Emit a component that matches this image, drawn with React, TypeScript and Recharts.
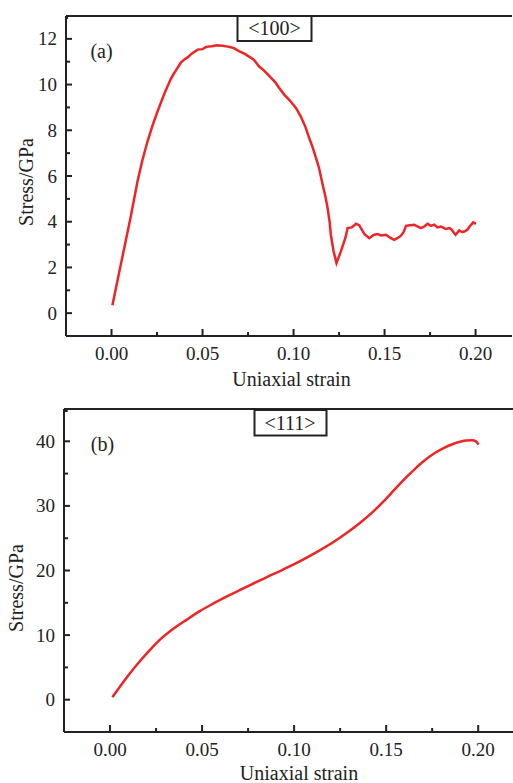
import React from 'react';
import { LineChart, Line, XAxis, YAxis } from 'recharts';

// <100> loading curve (strain, stress in GPa)
const strainA = [
  0.0005, 0.004, 0.007, 0.0105, 0.0143, 0.017, 0.0198, 0.0225, 0.0253, 0.029,
  0.0326, 0.034, 0.036, 0.038, 0.04, 0.042, 0.044, 0.0473, 0.05, 0.052,
  0.055, 0.058, 0.061, 0.064, 0.067, 0.07, 0.073, 0.076, 0.078, 0.081,
  0.084, 0.087, 0.09, 0.092, 0.095, 0.098, 0.1013, 0.104, 0.1065, 0.1086,
  0.1105, 0.1123, 0.114, 0.116, 0.1175, 0.1187, 0.1198, 0.1205, 0.122, 0.1236,
  0.126, 0.1285, 0.1297, 0.132, 0.1343, 0.136, 0.137, 0.139, 0.1416, 0.144,
  0.1462, 0.148, 0.1508, 0.153, 0.1553, 0.157, 0.159, 0.1605, 0.1618, 0.164,
  0.1663, 0.168, 0.17, 0.172, 0.1736, 0.1755, 0.1773, 0.179, 0.181, 0.1837,
  0.1855, 0.1865, 0.189, 0.191, 0.1925, 0.1938, 0.1955, 0.1965, 0.1987, 0.2002,
];
const stressA = [
  0.35, 1.7, 2.85, 4.2, 5.77, 6.7, 7.52, 8.2, 8.83, 9.6,
  10.25, 10.45, 10.7, 10.95, 11.1, 11.2, 11.35, 11.53, 11.55, 11.65,
  11.68, 11.72, 11.7, 11.66, 11.6, 11.46, 11.35, 11.2, 11.1, 10.8,
  10.6, 10.35, 10.1, 9.86, 9.55, 9.3, 8.98, 8.6, 8.15, 7.66,
  7.25, 6.79, 6.35, 5.62, 5.1, 4.6, 4.0, 3.43, 2.7, 2.19,
  2.7, 3.3, 3.72, 3.75, 3.91, 3.85, 3.72, 3.45, 3.28, 3.42,
  3.46, 3.4, 3.43, 3.3, 3.21, 3.28, 3.39, 3.55, 3.82, 3.85,
  3.87, 3.8, 3.72, 3.8, 3.91, 3.82, 3.87, 3.75, 3.79, 3.68,
  3.72, 3.68, 3.43, 3.62, 3.55, 3.57, 3.65, 3.77, 3.97, 3.91,
];

// <111> loading curve
const strainB = [
  0.0013, 0.01, 0.0163, 0.022, 0.027, 0.034, 0.0417, 0.049, 0.0562, 0.0635,
  0.0707, 0.0761, 0.085, 0.094, 0.1033, 0.112, 0.1214, 0.1285, 0.1359, 0.1425,
  0.1486, 0.154, 0.1594, 0.165, 0.1703, 0.176, 0.1812, 0.186, 0.1902, 0.1935,
  0.1966, 0.199, 0.2002,
];
const stressB = [
  0.4, 3.8, 6.0, 7.8, 9.25, 10.9, 12.4, 13.75, 14.9, 16.0,
  17.0, 17.75, 18.95, 20.15, 21.45, 22.8, 24.4, 25.8, 27.4, 29.0,
  30.7, 32.35, 34.0, 35.55, 36.9, 38.1, 38.95, 39.55, 39.93, 40.12,
  40.15, 39.95, 39.5,
];

const xMajor = [0, 0.05, 0.1, 0.15, 0.2];
const xMinor = [0.025, 0.075, 0.125, 0.175];
const yMajorA = [0, 2, 4, 6, 8, 10, 12];
const yMinorA = [1, 3, 5, 7, 9, 11];
const yMajorB = [0, 10, 20, 30, 40];
const yMinorB = [5, 15, 25, 35];

const FONT = '"Liberation Serif", "Times New Roman", serif';
const INK = '#222';
const RED = '#ee2426';

const toRows = (xs: number[], ys: number[]) => xs.map((x, i) => ({ strain: x, stress: ys[i] }));
const merge = (a: number[], b: number[]) => [...a, ...b].sort((p, q) => p - q);

const BottomTick = (props: any) => {
  const { x, y, payload } = props;
  const major = xMajor.includes(payload.value);
  return (
    <g>
      <line x1={x} x2={x} y1={y} y2={y - (major ? 7 : 4)} stroke={INK} strokeWidth={2} />
      {major && (
        <text x={x} y={y + 24} textAnchor="middle" fontSize={19} fontFamily={FONT} fill={INK}>
          {payload.value.toFixed(2)}
        </text>
      )}
    </g>
  );
};

const TopTick = (props: any) => {
  const { x, y } = props;
  return <line x1={x} x2={x} y1={y} y2={y + 3} stroke={INK} strokeWidth={1.5} />;
};

const makeLeftTick = (majors: number[]) => (props: any) => {
  const { x, y, payload } = props;
  const major = majors.includes(payload.value);
  return (
    <g>
      <line x1={x} x2={x + (major ? 6 : 4)} y1={y} y2={y} stroke={INK} strokeWidth={2} />
      {major && (
        <text x={x - 9} y={y + 6.5} textAnchor="end" fontSize={19} fontFamily={FONT} fill={INK}>
          {payload.value}
        </text>
      )}
    </g>
  );
};

interface PanelProps {
  data: { strain: number; stress: number }[];
  width: number;
  height: number;
  yWidth: number;
  rightPad: number;
  yDomain: [number, number];
  yMajor: number[];
  yMinor: number[];
  curve: 'linear' | 'monotone';
}

const Panel: React.FC<PanelProps> = ({ data, width, height, yWidth, rightPad, yDomain, yMajor, yMinor, curve }) => (
  <LineChart width={width} height={height} data={data} margin={{ top: 15, right: rightPad, left: 10, bottom: 0 }}>
    <XAxis
      type="number"
      dataKey="strain"
      domain={[-0.025, 0.22]}
      allowDataOverflow
      ticks={merge(xMajor, xMinor)}
      interval={0}
      tickSize={0}
      tickMargin={0}
      tickLine={false}
      tick={BottomTick}
      height={30}
      axisLine={{ stroke: INK, strokeWidth: 2 }}
    />
    <XAxis
      xAxisId="top"
      orientation="top"
      type="number"
      domain={[-0.025, 0.22]}
      allowDataOverflow
      ticks={merge(xMajor, xMinor)}
      interval={0}
      tickSize={0}
      tickMargin={0}
      tickLine={false}
      tick={TopTick}
      height={1}
      axisLine={{ stroke: INK, strokeWidth: 2 }}
    />
    <YAxis
      type="number"
      domain={yDomain}
      allowDataOverflow
      ticks={merge(yMajor, yMinor)}
      interval={0}
      tickSize={0}
      tickMargin={0}
      tickLine={false}
      tick={makeLeftTick(yMajor)}
      width={yWidth}
      axisLine={{ stroke: INK, strokeWidth: 2 }}
    />
    <Line
      type={curve}
      dataKey="stress"
      stroke={RED}
      strokeWidth={2.5}
      dot={false}
      isAnimationActive={false}
    />
  </LineChart>
);

const txt = { fontFamily: FONT, fill: INK, fontSize: 20 };

export default function App() {
  return (
    <div style={{ position: 'absolute', left: 0, top: 0, width: 513, height: 783, overflow: 'hidden', background: '#fff' }}>
      <div style={{ position: 'absolute', left: 0, top: 0 }}>
        <Panel
          data={toRows(strainA, stressA)}
          width={513}
          height={366}
          yWidth={56}
          rightPad={1}
          yDomain={[-1, 13]}
          yMajor={yMajorA}
          yMinor={yMinorA}
          curve="linear"
        />
      </div>
      <div style={{ position: 'absolute', left: 0, top: 393 }}>
        <Panel
          data={toRows(strainB, stressB)}
          width={515}
          height={369}
          yWidth={54}
          rightPad={0}
          yDomain={[-5, 45]}
          yMajor={yMajorB}
          yMinor={yMinorB}
          curve="monotone"
        />
      </div>
      <svg width={513} height={783} style={{ position: 'absolute', left: 0, top: 0, pointerEvents: 'none' }}>
        <text x={101.5} y={57.5} textAnchor="middle" {...txt}>(a)</text>
        <rect x={237.5} y={16} width={74} height={25} fill="#fff" stroke={INK} strokeWidth={2} />
        <text x={274.5} y={35} textAnchor="middle" {...txt}>{'<100>'}</text>
        <text x={26} y={182} textAnchor="middle" dominantBaseline="central" transform="rotate(-90 26 182)" {...txt}>Stress/GPa</text>
        <text x={291.5} y={385.5} textAnchor="middle" {...txt}>Uniaxial strain</text>

        <text x={102.5} y={450.5} textAnchor="middle" {...txt}>(b)</text>
        <rect x={254.5} y={410} width={72} height={25.5} fill="#fff" stroke={INK} strokeWidth={2} />
        <text x={290} y={429.5} textAnchor="middle" {...txt}>{'<111>'}</text>
        <text x={16} y={588} textAnchor="middle" dominantBaseline="central" transform="rotate(-90 16 588)" {...txt}>Stress/GPa</text>
        <text x={299} y={780} textAnchor="middle" {...txt}>Uniaxial strain</text>
      </svg>
    </div>
  );
}
